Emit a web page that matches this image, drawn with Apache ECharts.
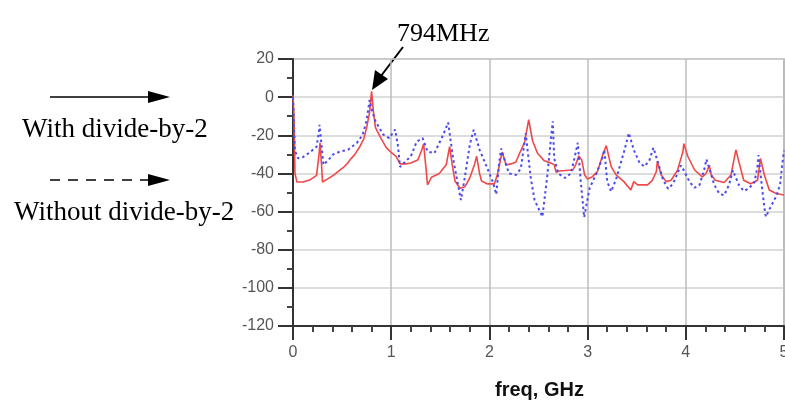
<!DOCTYPE html>
<html>
<head>
<meta charset="utf-8">
<script src="https://cdn.jsdelivr.net/npm/echarts@6/dist/echarts.min.js"></script>
<style>html,body{margin:0;padding:0;background:#fff}#c{width:785px;height:406px}</style>
</head>
<body>
<div id="c"></div>
<script>
// With divide-by-2 (solid red)
var withFreq = [0, 0.01, 0.02, 0.04, 0.10, 0.17, 0.24, 0.265, 0.275, 0.29, 0.30, 0.35, 0.41, 0.51, 0.55, 0.58, 0.63, 0.68, 0.72, 0.75, 0.78, 0.80, 0.82, 0.84, 0.90, 0.95, 1.00, 1.05, 1.09, 1.15, 1.20, 1.27, 1.31, 1.33, 1.35, 1.37, 1.41, 1.49, 1.56, 1.595, 1.62, 1.65, 1.70, 1.75, 1.80, 1.85, 1.87, 1.90, 1.92, 1.98, 2.05, 2.08, 2.13, 2.17, 2.22, 2.27, 2.32, 2.36, 2.40, 2.44, 2.49, 2.56, 2.63, 2.66, 2.68, 2.71, 2.85, 2.88, 2.91, 2.94, 2.97, 3.00, 3.05, 3.10, 3.15, 3.19, 3.24, 3.29, 3.37, 3.44, 3.47, 3.51, 3.61, 3.66, 3.70, 3.71, 3.75, 3.80, 3.85, 3.915, 3.97, 3.98, 4.02, 4.09, 4.17, 4.21, 4.24, 4.26, 4.30, 4.39, 4.46, 4.49, 4.51, 4.54, 4.59, 4.66, 4.73, 4.76, 4.80, 4.85, 4.92, 5.00];
var withDb = [1, -10, -40, -44.5, -44.5, -43.5, -41, -30, -24, -35, -44.5, -43, -41, -37, -35, -33, -30, -26, -22, -16, -8, 3, -8, -16, -22, -26.5, -29, -31, -35, -35, -34.5, -33, -28, -24.5, -35, -46, -42, -40, -35.5, -26, -35, -44, -47.8, -47, -42.4, -35, -31, -40, -44, -45.5, -45.5, -41, -28.8, -35.5, -35, -34, -28, -23.5, -11.8, -23, -29.4, -33.4, -34.6, -35.5, -39.4, -38.7, -38.2, -35.2, -30.8, -32.9, -40.8, -42.9, -41.7, -39, -31, -25.4, -36.4, -40.8, -44.3, -48.7, -44.3, -46, -46, -43.6, -39, -33.8, -40.8, -44.3, -43.6, -38.4, -28.8, -24.4, -31, -38.2, -41.9, -39.6, -35.8, -40.8, -43.6, -44.8, -40.8, -32.9, -27.6, -33.8, -43.6, -45.4, -43.6, -32.2, -40.8, -48.7, -50.5, -51.3];

// Without divide-by-2 (dotted blue)
var withoutFreq = [0, 0.01, 0.02, 0.05, 0.10, 0.17, 0.24, 0.265, 0.27, 0.29, 0.31, 0.36, 0.41, 0.48, 0.56, 0.65, 0.71, 0.75, 0.78, 0.81, 0.84, 0.92, 0.98, 1.04, 1.07, 1.09, 1.16, 1.20, 1.26, 1.32, 1.37, 1.44, 1.53, 1.58, 1.63, 1.68, 1.71, 1.75, 1.80, 1.84, 1.90, 1.985, 2.035, 2.07, 2.10, 2.12, 2.17, 2.20, 2.27, 2.32, 2.37, 2.42, 2.46, 2.54, 2.59, 2.63, 2.645, 2.66, 2.70, 2.77, 2.83, 2.88, 2.90, 2.93, 2.965, 3.02, 3.09, 3.15, 3.17, 3.20, 3.24, 3.29, 3.37, 3.42, 3.47, 3.53, 3.58, 3.63, 3.67, 3.71, 3.77, 3.82, 3.87, 3.915, 3.95, 3.98, 4.04, 4.09, 4.14, 4.19, 4.21, 4.24, 4.29, 4.34, 4.39, 4.44, 4.48, 4.50, 4.54, 4.59, 4.64, 4.70, 4.73, 4.74, 4.77, 4.80, 4.815, 4.86, 4.92, 4.96, 4.98, 5.00];
var withoutDb = [0, -15, -28, -32, -31.5, -29, -26, -18, -14.5, -25, -35.5, -33, -30, -28.5, -27.6, -24, -19.7, -12, -1.5, -8, -12.7, -19.7, -21.5, -17, -26, -36.6, -33, -31, -23.3, -21.5, -28.5, -29.4, -19.7, -13.3, -32, -46, -54, -41.9, -25, -17.1, -27.6, -38, -44.5, -51, -34, -27, -35.5, -40, -40.8, -37.5, -19, -42, -54, -62.7, -41, -20, -12.7, -32, -40, -42.4, -40, -28.8, -23.9, -44, -63, -47.8, -40, -32, -27.6, -44.3, -49.5, -43, -28.8, -18.8, -27.6, -34.6, -36.4, -33, -26.5, -33, -43.6, -48, -45.4, -40, -35.8, -38.4, -44.6, -47.5, -46, -37.5, -32.6, -37.5, -46, -50.5, -51.5, -46, -38.4, -41, -46, -49.2, -48, -44.5, -36.4, -30.4, -44.5, -58, -62.7, -58, -52, -46, -36, -28];

var xTicks = [0, 1, 2, 3, 4, 5];
var yTicks = [-120, -100, -80, -60, -40, -20, 0, 20];
var legendLabels = ['With divide-by-2', 'Without divide-by-2'];
var markerLabel = '794MHz';
var xTitle = 'freq, GHz';

function pairs(xs, ys) { return xs.map(function (x, i) { return [x, ys[i]]; }); }

var chart = echarts.init(document.getElementById('c'), null, { renderer: 'canvas' });
var serif = "'Liberation Serif', 'Times New Roman', serif";
var sans = "'Liberation Sans', Arial, sans-serif";

chart.setOption({
  animation: false,
  backgroundColor: '#ffffff',
  grid: { left: 293, right: 1, top: 59, bottom: 80, show: true, borderColor: '#a8a8a8', borderWidth: 1.5, backgroundColor: 'transparent', containLabel: false, outerBoundsMode: 'none' },
  xAxis: {
    type: 'value', min: xTicks[0], max: xTicks[xTicks.length - 1], interval: 1,
    axisLine: { show: true, onZero: false, lineStyle: { color: '#333', width: 2 } },
    axisTick: { show: true, inside: false, length: 14, lineStyle: { color: '#333', width: 2 } },
    minorTick: { show: true, splitNumber: 5, length: 6, lineStyle: { color: '#444', width: 2 } },
    splitLine: { show: true, lineStyle: { color: '#bdbdbd', width: 1.5 } },
    axisLabel: { margin: 19, fontFamily: sans, fontSize: 16, color: '#555', showMaxLabel: true }
  },
  yAxis: {
    type: 'value', min: yTicks[0], max: yTicks[yTicks.length - 1], interval: 20,
    axisLine: { show: true, onZero: false, lineStyle: { color: '#333', width: 2 } },
    axisTick: { show: true, length: 15, lineStyle: { color: '#333', width: 2 } },
    minorTick: { show: true, splitNumber: 2, length: 6, lineStyle: { color: '#444', width: 2 } },
    splitLine: { show: true, lineStyle: { color: '#d2d2d2', width: 1.5 } },
    axisLabel: { margin: 19, fontFamily: sans, fontSize: 16, color: '#555' }
  },
  series: [
    {
      name: legendLabels[0], type: 'line', data: pairs(withFreq, withDb), showSymbol: false,
      lineStyle: { color: '#f04848', width: 1.6 }, z: 3
    },
    {
      name: legendLabels[1], type: 'line', data: pairs(withoutFreq, withoutDb), showSymbol: false,
      lineStyle: { color: '#4a4af0', width: 2, type: [2.5, 3] }, z: 4
    }
  ],
  graphic: [
    { type: 'line', shape: { x1: 50, y1: 97, x2: 152, y2: 97 }, style: { stroke: '#000', lineWidth: 1.5 } },
    { type: 'polygon', shape: { points: [[148, 91], [170, 97], [148, 103]] }, style: { fill: '#000' } },
    { type: 'text', left: 22, top: 116, style: { text: legendLabels[0], font: '27px ' + serif, fill: '#000' } },
    { type: 'line', shape: { x1: 50, y1: 180, x2: 148, y2: 180 }, style: { stroke: '#000', lineWidth: 1.5, lineDash: [10, 8] } },
    { type: 'polygon', shape: { points: [[148, 174], [170, 180], [148, 186]] }, style: { fill: '#000' } },
    { type: 'text', left: 14, top: 199, style: { text: legendLabels[1], font: '27px ' + serif, fill: '#000' } },
    { type: 'text', left: 397, top: 21, style: { text: markerLabel, font: '26px ' + serif, fill: '#000' } },
    { type: 'line', shape: { x1: 403, y1: 47, x2: 381, y2: 76 }, style: { stroke: '#000', lineWidth: 2 } },
    { type: 'polygon', shape: { points: [[372, 90], [375, 70], [388, 79]] }, style: { fill: '#000' } },
    { type: 'text', left: 495, top: 380, style: { text: xTitle, font: 'bold 20px ' + sans, fill: '#111' } }
  ]
});
</script>
</body>
</html>
